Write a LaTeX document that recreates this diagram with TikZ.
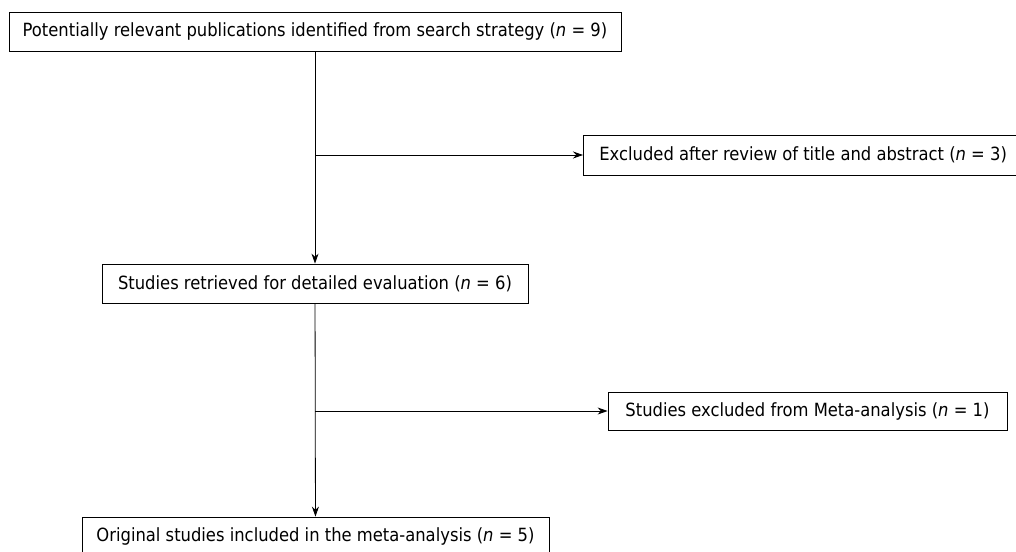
\documentclass[tikz,border=0pt]{standalone}
\usepackage{fontspec}
\setmainfont{DejaVu Sans Condensed}
\usetikzlibrary{arrows.meta}

\begin{document}
\begin{tikzpicture}[x=1pt, y=-1pt,
    boite/.style={draw, line width=0.8pt, inner sep=0pt, font=\fontsize{18.2}{22}\selectfont},
    fleche/.style={-{Stealth[length=10pt, width=7pt]}, line width=0.8pt}]
  \useasboundingbox (0,0) rectangle (1016,551);

  % Boites de l'axe principal
  \foreach \nom/\cx/\cy/\larg/\texte in {
      pub/315/31.5/612/{Potentially relevant publications identified from search strategy (\textit{n} = 9)},
      etudes/315/283.5/426/{Studies retrieved for detailed evaluation (\textit{n} = 6)},
      incluses/315.5/536.5/467/{Original studies included in the meta-analysis (\textit{n} = 5)}} {
    \node[boite, minimum width=\larg, minimum height=39] (\nom) at (\cx,\cy) {\texte};
  }

  % Boites des exclusions
  \node[boite, anchor=west, inner xsep=16pt, minimum height=40] (exclu1) at (583,155)
    {Excluded after review of title and abstract (\textit{n} = 3)};
  \node[boite, minimum width=399, minimum height=38] (exclu2) at (807.5,411)
    {Studies excluded from Meta-analysis (\textit{n} = 1)};

  % Fleches
  \draw[fleche] (pub) -- (etudes);
  \draw[fleche] (etudes) -- (incluses);
  \draw[fleche] (pub.south |- exclu1.west) -- (exclu1.west);
  \draw[fleche] (etudes.south |- exclu2.west) -- (exclu2.west);
\end{tikzpicture}
\end{document}
